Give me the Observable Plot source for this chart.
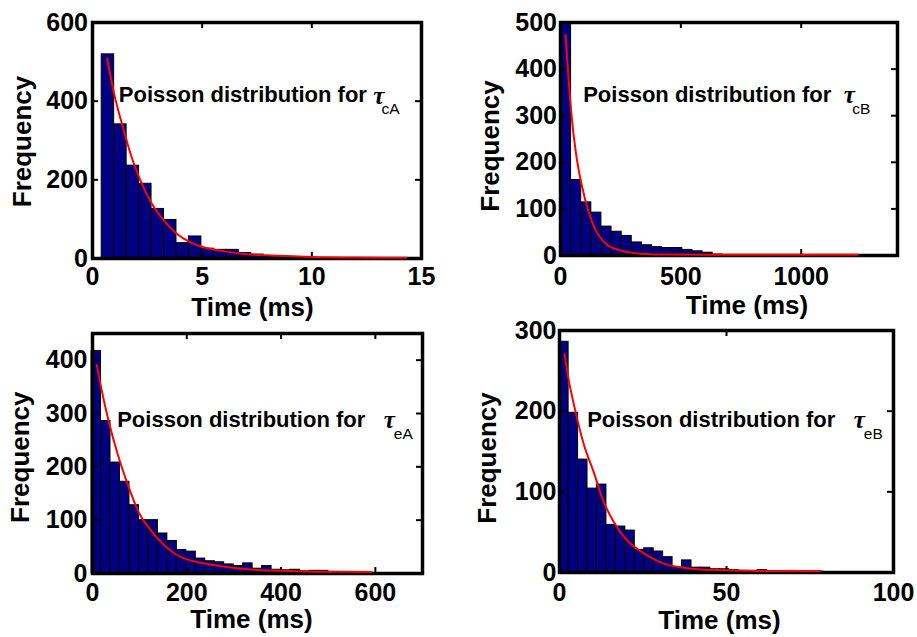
<!DOCTYPE html>
<html><head><meta charset="utf-8">
<script src="https://cdn.jsdelivr.net/npm/d3@7"></script>
<script src="https://cdn.jsdelivr.net/npm/@observablehq/plot@0.6"></script>
<style>
body{margin:0;background:#fff}
#chart{position:relative;width:917px;height:637px;overflow:hidden;background:#fff}
#chart svg{position:absolute;overflow:visible}
</style></head><body><div id="chart"></div>
<script>
// ---- Panel tau_cA (top-left) ----
const cA_binStart = 0.42, cA_binWidth = 0.568;
const cA_counts = [519, 341, 236, 190, 126, 98, 39, 56, 25, 22, 22, 14, 10, 6, 4, 3, 2, 1, 1, 1, 1, 0, 1, 0, 1];
const cA_curveX = [0.67, 0.97, 1.43, 1.8, 2.19, 2.7, 3.25, 3.8, 4.47, 5.1, 5.84, 6.8, 7.97, 10, 12, 14.3];
const cA_curveY = [508, 423, 325, 255, 198, 140, 97, 65, 41, 28, 20, 12, 8, 4, 2.5, 2];
const cA_xTicks = [0, 5, 10, 15];
const cA_yTicks = [0, 200, 400, 600];

// ---- Panel tau_cB (top-right) ----
const cB_binStart = 2, cB_binWidth = 42;
const cB_counts = [500, 162, 114, 92, 62, 51, 42, 28, 22, 18, 16, 16, 12, 9, 6, 2, 1, 1, 0, 0, 0, 0, 0, 0, 0, 0, 0, 0, 0, 1];
const cB_curveX = [21, 35, 48, 62, 76, 90, 111, 132, 159, 194, 249, 332, 450, 700, 1000, 1235];
const cB_curveY = [473, 368, 290, 228, 182, 147, 104, 71, 43, 23, 11, 4, 2, 1.5, 1.5, 1.5];
const cB_xTicks = [0, 500, 1000];
const cB_yTicks = [0, 100, 200, 300, 400, 500];

// ---- Panel tau_eA (bottom-left) ----
const eA_binStart = -2, eA_binWidth = 20.1;
const eA_counts = [417, 286, 208, 172, 128, 100, 100, 75, 61, 44, 41, 28, 23, 21, 17, 14, 19, 9, 14, 7, 6, 7, 4, 5, 5, 3, 2, 1, 1, 1];
const eA_curveX = [9, 18, 32, 53, 74, 99, 124, 160, 187, 257, 328, 399, 470, 592];
const eA_curveY = [391, 350, 294, 225, 169, 113, 81, 47, 31, 16, 8, 5, 3.5, 3];
const eA_xTicks = [0, 200, 400, 600];
const eA_yTicks = [0, 100, 200, 300, 400];

// ---- Panel tau_eB (bottom-right) ----
const eB_binStart = -0.1, eB_binWidth = 2.83;
const eB_counts = [286, 198, 140, 104, 109, 59, 57, 52, 28, 30, 26, 19, 6, 15, 6, 6, 4, 4, 3, 2, 2, 3, 1, 1, 2, 1, 1, 1];
const eB_curveX = [1.5, 2.7, 4.7, 7.2, 10.2, 13.2, 16.2, 20.2, 25.2, 31.2, 37.2, 47.2, 60, 78];
const eB_curveY = [271, 240, 201, 160, 125, 88, 63, 40, 24, 11, 6, 3, 2, 2];
const eB_xTicks = [0, 50, 100];
const eB_yTicks = [0, 100, 200, 300];

const annotationText = "Poisson distribution for";
const tauSymbol = "\u03C4";
const xLabel = "Time (ms)";
const yLabel = "Frequency";

const FONT = "'Liberation Sans', Arial, Helvetica, sans-serif";
const SERIF = "'Liberation Serif', 'Times New Roman', serif";
const BAR = "#000080";

function panel(cfg) {
  const bars = cfg.counts.map((c, i) => ({
    x1: cfg.binStart + i * cfg.binWidth,
    x2: cfg.binStart + (i + 1) * cfg.binWidth,
    y: c
  }));
  const curve = cfg.curveX.map((x, i) => ({x, y: cfg.curveY[i]}));
  const fw = cfg.width - cfg.ml - cfg.mr;
  const fh = cfg.height - cfg.mt - cfg.mb;
  const tl = 6;
  const svg = Plot.plot({
    width: cfg.width, height: cfg.height,
    marginLeft: cfg.ml, marginRight: cfg.mr, marginTop: cfg.mt, marginBottom: cfg.mb,
    x: {domain: cfg.xDomain},
    y: {domain: cfg.yDomain},
    style: {fontFamily: FONT, background: "transparent", overflow: "visible", color: "black"},
    marks: [
      Plot.rectY(bars, {x1: "x1", x2: "x2", y: "y", fill: BAR, stroke: "black", strokeWidth: 1}),
      Plot.frame({stroke: "black", strokeWidth: 3.5}),
      Plot.tickX(cfg.xTicks, {x: d => d, insetTop: fh - tl, stroke: "black", strokeWidth: 2}),
      Plot.tickX(cfg.xTicks, {x: d => d, insetBottom: fh - tl, stroke: "black", strokeWidth: 2}),
      Plot.tickY(cfg.yTicks, {y: d => d, insetRight: fw - tl, stroke: "black", strokeWidth: 2}),
      Plot.tickY(cfg.yTicks, {y: d => d, insetLeft: fw - tl, stroke: "black", strokeWidth: 2}),
      Plot.line(curve, {x: "x", y: "y", stroke: "red", strokeWidth: 2, curve: "monotone-x"}),
      Plot.axisX(cfg.xTicks, {tickSize: 0, tickPadding: cfg.xPad, tickFormat: d => String(d), fontSize: 25, fontWeight: "bold", fill: "black", label: null}),
      Plot.axisY(cfg.yTicks, {tickSize: 0, tickPadding: cfg.yPad, tickFormat: d => String(d), fontSize: 25, fontWeight: "bold", fill: "black", label: null}),
      Plot.text([yLabel], {text: d => d, frameAnchor: "left", rotate: -90, dx: cfg.fq[0], dy: cfg.fq[1],
        fontSize: 26, fontWeight: "bold", textAnchor: "middle", lineAnchor: "middle", fill: "black"}),
      Plot.text([xLabel], {text: d => d, frameAnchor: "bottom", dx: cfg.tm[0], dy: cfg.tm[1],
        fontSize: 26, fontWeight: "bold", textAnchor: "middle", lineAnchor: "bottom", fill: "black"}),
      Plot.text([annotationText], {text: d => d, frameAnchor: "top-left", dx: cfg.ann[0], dy: cfg.ann[1],
        fontSize: 22, fontWeight: "bold", textAnchor: "start", lineAnchor: "bottom", fill: "black"}),
      Plot.text([tauSymbol], {text: d => d, frameAnchor: "top-left", dx: cfg.tau[0], dy: cfg.tau[1],
        fontSize: 25, fontStyle: "italic", fontWeight: "bold", fontFamily: SERIF, textAnchor: "start", lineAnchor: "bottom", fill: "black"}),
      Plot.text([cfg.sub], {text: d => d, frameAnchor: "top-left", dx: cfg.subPos[0], dy: cfg.subPos[1],
        fontSize: 15.5, textAnchor: "start", lineAnchor: "bottom", fill: "black"})
    ]
  });
  svg.style.left = cfg.left + "px";
  svg.style.top = cfg.top + "px";
  document.getElementById("chart").appendChild(svg);
}

panel({left: 0, top: 0, width: 458, height: 318, ml: 92, mr: 37, mt: 22, mb: 60,
  xDomain: [0, 15], yDomain: [0, 600],
  binStart: cA_binStart, binWidth: cA_binWidth, counts: cA_counts,
  curveX: cA_curveX, curveY: cA_curveY, xTicks: cA_xTicks, yTicks: cA_yTicks,
  xPad: 8.5, yPad: 4.5, fq: [-70, 1], tm: [-4.5, 57],
  ann: [26.3, 79.7], tau: [280.7, 81], sub: "cA", subPos: [289, 91.3]});

panel({left: 458, top: 0, width: 459, height: 318, ml: 102, mr: 20, mt: 22, mb: 63,
  xDomain: [0, 1400], yDomain: [0, 500],
  binStart: cB_binStart, binWidth: cB_binWidth, counts: cB_counts,
  curveX: cB_curveX, curveY: cB_curveY, xTicks: cB_xTicks, yTicks: cB_yTicks,
  xPad: 11.5, yPad: 3.5, fq: [-70, 7], tm: [18, 58],
  ann: [22.7, 79.7], tau: [283.3, 80.7], sub: "cB", subPos: [291.7, 91.3]});

panel({left: 0, top: 318, width: 458, height: 319, ml: 92, mr: 36, mt: 15, mb: 64,
  xDomain: [0, 700], yDomain: [0, 450],
  binStart: eA_binStart, binWidth: eA_binWidth, counts: eA_counts,
  curveX: eA_curveX, curveY: eA_curveY, xTicks: eA_xTicks, yTicks: eA_yTicks,
  xPad: 10, yPad: 5, fq: [-71.7, 3.7], tm: [-6, 54],
  ann: [24.7, 93], tau: [291.3, 94.7], sub: "eA", subPos: [301.3, 105.3]});

panel({left: 458, top: 318, width: 459, height: 319, ml: 101, mr: 24, mt: 12, mb: 65,
  xDomain: [0, 100], yDomain: [0, 300],
  binStart: eB_binStart, binWidth: eB_binWidth, counts: eB_counts,
  curveX: eB_curveX, curveY: eB_curveY, xTicks: eB_xTicks, yTicks: eB_yTicks,
  xPad: 11, yPad: 3, fq: [-72, 6.5], tm: [-7, 56],
  ann: [27.7, 96.7], tau: [294.3, 97.7], sub: "eB", subPos: [304.3, 108.3]});
</script></body></html>
